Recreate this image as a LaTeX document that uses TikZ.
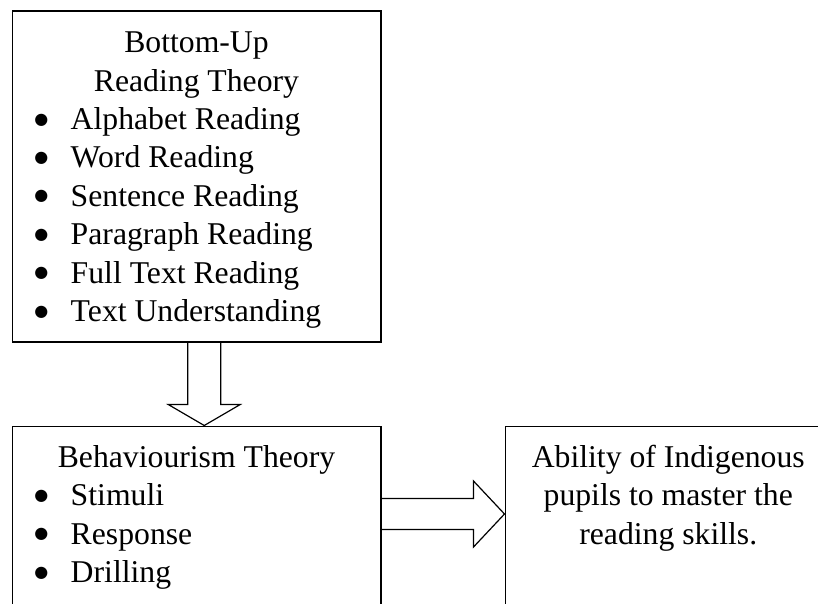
\documentclass[tikz,border=0pt]{standalone}
\usepackage{fontspec}
\setmainfont{Liberation Serif}
\newfontfamily\dotfont{DejaVu Sans}
\usetikzlibrary{calc,positioning}
\newcommand{\bulletitem}[1]{\makebox[36pt][l]{\hspace{-0.5pt}\raisebox{5.4pt}{\dotfont\fontsize{16pt}{16pt}\selectfont ●}}#1}
\begin{document}
\begin{tikzpicture}[x=1pt,y=-1pt,line join=miter,
  box/.style={draw,line width=1.5pt,inner sep=0pt,font=\fontsize{31.7pt}{38.4pt}\selectfont},
  hollow/.style={draw,line width=1.2pt}]
\useasboundingbox (0,0) rectangle (818,603);
\begin{scope}[overlay]
\clip (0,0) rectangle (818,603);
\node[box,anchor=north west] (bottomup) at (11.5,10) {\parbox[t][331pt][t]{368.5pt}{\centering\rule{0pt}{42pt}Bottom-Up\\Reading Theory\par
  \raggedright\leftskip=22.5pt \bulletitem{Alphabet Reading}\\ \bulletitem{Word Reading}\\ \bulletitem{Sentence Reading}\\
  \bulletitem{Paragraph Reading}\\ \bulletitem{Full Text Reading}\\ \bulletitem{Text Understanding}}};
\node[box,below=83pt of bottomup] (behaviour) {\parbox[t][216pt][t]{368.5pt}{\centering\rule{0pt}{41pt}Behaviourism Theory\par
  \raggedright\leftskip=22.5pt \bulletitem{Stimuli}\\ \bulletitem{Response}\\ \bulletitem{Drilling}}};
\node[box,right=123pt of behaviour.north east,anchor=north west] (ability) {\parbox[t][216pt][t]{326pt}{\centering\rule{0pt}{41pt}Ability of Indigenous\\pupils to master the\\reading skills.}};
\coordinate (dtop) at ($(bottomup.south)+(7.75,0)$);
\coordinate (dtip) at (dtop |- behaviour.north);
\draw[hollow] ($(dtop)+(-16.5,0)$) -- ($(dtip)+(-16.5,-21)$) -- ($(dtip)+(-36,-21)$) -- (dtip)
  -- ($(dtip)+(36,-21)$) -- ($(dtip)+(16.5,-21)$) -- ($(dtop)+(16.5,0)$);
\coordinate (rtop) at ($(behaviour.north east)+(0,88.5)$);
\coordinate (rtip) at (rtop -| ability.west);
\draw[hollow] ($(rtop)+(0,-15.5)$) -- ($(rtip)+(-31,-15.5)$) -- ($(rtip)+(-31,-33)$) -- (rtip)
  -- ($(rtip)+(-31,33)$) -- ($(rtip)+(-31,15.5)$) -- ($(rtop)+(0,15.5)$);
\end{scope}
\end{tikzpicture}
\end{document}
